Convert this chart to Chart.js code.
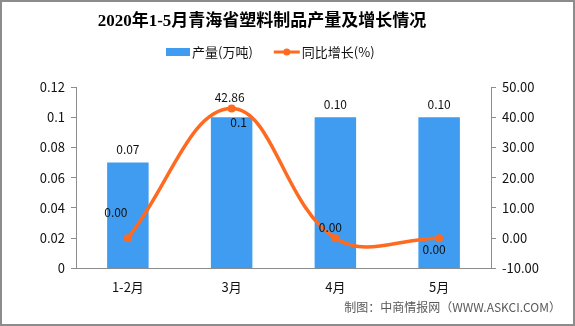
<!DOCTYPE html>
<html>
<head>
<meta charset="utf-8">
<script src="https://cdn.jsdelivr.net/npm/chart.js@4"></script>
<style>
  html, body { margin: 0; padding: 0; background: #fff; }
  #wrap { width: 575px; height: 326px; position: relative; }
</style>
</head>
<body>
<div id="wrap"><canvas id="myChart"></canvas></div>
<script>
const months = ["1-2月", "3月", "4月", "5月"];
const output = [0.07, 0.1, 0.1, 0.1];          // 产量(万吨)
const outputText = ["0.07", "0.1", "0.10", "0.10"];
const growth = [0.00, 42.86, 0.00, 0.00];      // 同比增长(%)

const titleText = "2020年1-5月青海省塑料制品产量及增长情况";
const sourceText = "制图：中商情报网（WWW.ASKCI.COM）";

const FONT = "'Noto Sans CJK SC', 'Liberation Sans', sans-serif";
const BLUE = "#3f9cf0";
const ORANGE = "#ff6a21";

// value labels for bars and line points
const valueLabels = {
  id: "valueLabels",
  afterDatasetsDraw(chart) {
    const ctx = chart.ctx;
    ctx.save();
    ctx.font = "12px " + FONT;
    ctx.fillStyle = "#111";
    ctx.textAlign = "center";
    ctx.textBaseline = "middle";
    const barOff = [[0, -13], [7, 5], [0, -13], [0, -13]];
    chart.getDatasetMeta(0).data.forEach((bar, i) => {
      ctx.fillText(outputText[i], bar.x + barOff[i][0], bar.y + barOff[i][1]);
    });
    const lineOff = [[-12, -26], [-2, -11], [-5, -11], [-5, 11]];
    chart.getDatasetMeta(1).data.forEach((pt, i) => {
      ctx.fillText(growth[i].toFixed(2), pt.x + lineOff[i][0], pt.y + lineOff[i][1]);
    });
    ctx.restore();
  }
};

// title, legend, source note and outer frame
const decorations = {
  id: "decorations",
  afterDraw(chart) {
    const ctx = chart.ctx;
    const ds = chart.data.datasets;
    ctx.save();

    ctx.font = "bold 17px 'Liberation Serif', 'Noto Sans CJK SC', serif";
    ctx.fillStyle = "#000";
    ctx.textAlign = "center";
    ctx.textBaseline = "middle";
    ctx.fillText(titleText, 262, 22);

    // legend
    ctx.font = "13px " + FONT;
    ctx.textAlign = "left";
    let x = 166;
    const y = 52;
    ctx.fillStyle = ds[0].backgroundColor;
    ctx.fillRect(x, y - 4, 24, 8);
    x += 26;
    ctx.fillStyle = "#111";
    ctx.fillText(ds[0].label, x, y);
    x += ctx.measureText(ds[0].label).width + 21;
    ctx.strokeStyle = ds[1].borderColor;
    ctx.lineWidth = 3;
    ctx.beginPath();
    ctx.moveTo(x, y);
    ctx.lineTo(x + 26, y);
    ctx.stroke();
    ctx.fillStyle = ds[1].borderColor;
    ctx.beginPath();
    ctx.arc(x + 13, y, 3.5, 0, Math.PI * 2);
    ctx.fill();
    x += 28;
    ctx.fillStyle = "#111";
    ctx.fillText(ds[1].label, x, y);

    ctx.font = "12px " + FONT;
    ctx.fillStyle = "#595959";
    ctx.textAlign = "right";
    ctx.fillText(sourceText, 561, 307);

    ctx.strokeStyle = "#8c8c8c";
    ctx.lineWidth = 2;
    ctx.strokeRect(1, 1, chart.width - 2, chart.height - 2);
    ctx.restore();
  }
};

const context = document.getElementById("myChart").getContext("2d");

const myChart = new Chart(context, {
  data: {
    labels: months,
    datasets: [
      {
        type: "bar",
        label: "产量(万吨)",
        data: output,
        backgroundColor: BLUE,
        barPercentage: 0.8,
        categoryPercentage: 0.5,
        yAxisID: "y",
        order: 2
      },
      {
        type: "line",
        label: "同比增长(%)",
        data: growth,
        borderColor: ORANGE,
        backgroundColor: ORANGE,
        borderWidth: 3.5,
        pointRadius: 4,
        pointBackgroundColor: ORANGE,
        pointBorderWidth: 0,
        tension: 0.4,
        yAxisID: "y1",
        order: 1
      }
    ]
  },
  options: {
    responsive: true,
    maintainAspectRatio: false,
    animation: false,
    layout: { padding: { left: 0, right: 0, top: 87, bottom: 25 } },
    plugins: {
      title: { display: false },
      legend: { display: false },
      tooltip: { enabled: false }
    },
    scales: {
      x: {
        grid: { display: false, offset: true, drawTicks: true, tickLength: 5, color: "#8c8c8c" },
        border: { color: "#8c8c8c" },
        ticks: { color: "#111", font: { family: FONT, size: 13 }, padding: 6 }
      },
      y: {
        position: "left",
        min: 0,
        max: 0.12,
        ticks: {
          stepSize: 0.02,
          color: "#111",
          font: { family: FONT, size: 13 },
          padding: 6,
          callback: (v) => String(Math.round(v * 100) / 100)
        },
        grid: { drawOnChartArea: false, tickLength: 5, color: "#8c8c8c" },
        border: { color: "#8c8c8c" },
        afterFit(scale) { scale.width = 76; }
      },
      y1: {
        position: "right",
        min: -10,
        max: 50,
        ticks: {
          stepSize: 10,
          color: "#111",
          font: { family: FONT, size: 13 },
          padding: 6,
          callback: (v) => v.toFixed(2)
        },
        grid: { drawOnChartArea: false, tickLength: 5, color: "#8c8c8c" },
        border: { color: "#8c8c8c" },
        afterFit(scale) { scale.width = 84; }
      }
    }
  },
  plugins: [valueLabels, decorations]
});
</script>
</body>
</html>
